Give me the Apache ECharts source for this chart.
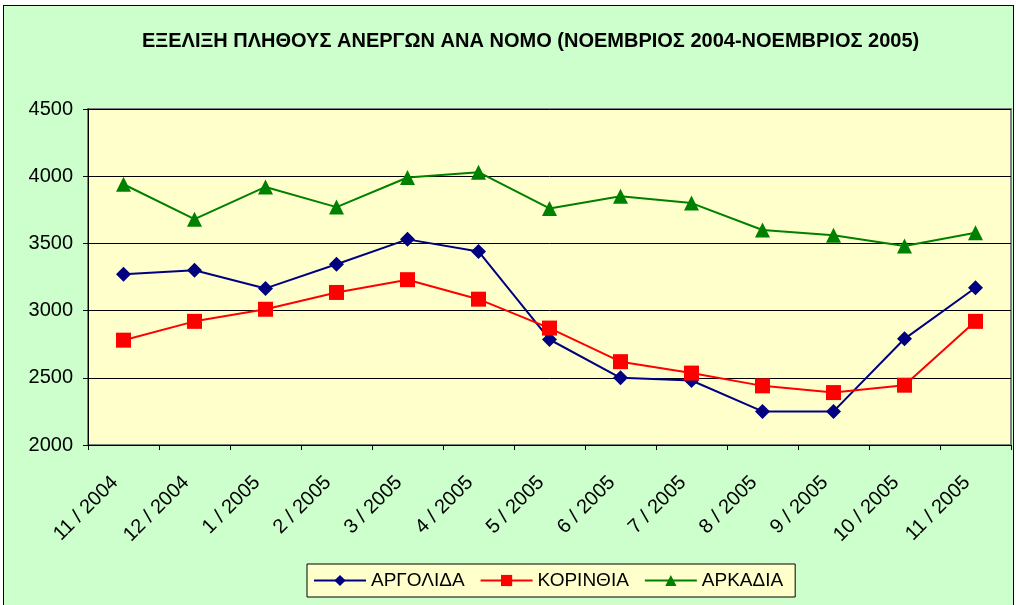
<!DOCTYPE html>
<html>
<head>
<meta charset="utf-8">
<style>
  html, body { margin: 0; padding: 0; background: #fff; }
  #frame { position: absolute; left: 3px; top: 5px; width: 1011px; height: 610px;
           border: 1px solid #000; background: #CCFFCC; box-sizing: border-box; }
  #main { width: 1009px; height: 600px; }
</style>
<script src="https://cdn.jsdelivr.net/npm/echarts@6/dist/echarts.min.js"></script>
</head>
<body>
<div id="frame"><div id="main"></div></div>
<script type="text/javascript">
    var months = ['11 / 2004', '12 / 2004', '1 / 2005', '2 / 2005', '3 / 2005', '4 / 2005', '5 / 2005',
                  '6 / 2005', '7 / 2005', '8 / 2005', '9 / 2005', '10 / 2005', '11 / 2005'];
    var argolida = [3270, 3300, 3165, 3345, 3530, 3440, 2785, 2500, 2480, 2250, 2250, 2790, 3170];
    var korinthia = [2780, 2920, 3010, 3135, 3230, 3085, 2870, 2620, 2535, 2440, 2390, 2445, 2920];
    var arkadia = [3940, 3680, 3920, 3770, 3990, 4030, 3760, 3850, 3800, 3600, 3560, 3480, 3580];

    var font = 'Liberation Sans, Arial, sans-serif';
    var myChart = echarts.init(document.getElementById('main'));
    var option = {
        textStyle: { fontFamily: font },
        title: {
            text: 'ΕΞΕΛΙΞΗ ΠΛΗΘΟΥΣ ΑΝΕΡΓΩΝ ΑΝΑ ΝΟΜΟ (ΝΟΕΜΒΡΙΟΣ 2004-ΝΟΕΜΒΡΙΟΣ 2005)',
            left: 133,
            top: 20,
            textStyle: { fontFamily: font, fontSize: 20, fontWeight: 'bold', color: '#000' }
        },
        legend: {
            data: ['ΑΡΓΟΛΙΔΑ', 'ΚΟΡΙΝΘΙΑ', 'ΑΡΚΑΔΙΑ'],
            bottom: 9,
            left: 303,
            backgroundColor: '#FFFFCC',
            borderColor: '#000',
            borderWidth: 1,
            borderRadius: 0,
            padding: [7, 12, 7, 6],
            itemGap: 15,
            itemWidth: 52,
            itemHeight: 14,
            textStyle: { fontFamily: font, fontSize: 19, color: '#000' }
        },
        grid: { left: 84, right: 2, top: 103, bottom: 161, show: true,
                backgroundColor: '#FFFFCC', borderColor: '#808080', borderWidth: 2 },
        xAxis: {
            type: 'category',
            data: months,
            boundaryGap: true,
            axisLine: { lineStyle: { color: '#000', width: 1 } },
            axisTick: { show: true, alignWithLabel: false, length: 5, lineStyle: { color: '#000' } },
            axisLabel: { rotate: 45, margin: 26, fontSize: 20, color: '#000', fontFamily: font,
                         interval: 0, padding: [0, 12, 0, 0] }
        },
        yAxis: {
            type: 'value',
            min: 2000,
            max: 4500,
            interval: 500,
            axisLine: { show: true, lineStyle: { color: '#000', width: 1 } },
            axisTick: { show: true, length: 5, lineStyle: { color: '#000' } },
            axisLabel: { fontSize: 20, color: '#000', fontFamily: font, margin: 15,
                         formatter: function (v) { return String(v); } },
            splitLine: { lineStyle: { color: '#000', width: 1 } }
        },
        series: [
            {
                name: 'ΑΡΓΟΛΙΔΑ', type: 'line', data: argolida,
                symbol: 'diamond', symbolSize: 15,
                itemStyle: { color: '#000080' },
                lineStyle: { color: '#000080', width: 2 }
            },
            {
                name: 'ΚΟΡΙΝΘΙΑ', type: 'line', data: korinthia,
                symbol: 'rect', symbolSize: 15,
                itemStyle: { color: '#FF0000' },
                lineStyle: { color: '#FF0000', width: 2 }
            },
            {
                name: 'ΑΡΚΑΔΙΑ', type: 'line', data: arkadia,
                symbol: 'triangle', symbolSize: 15,
                itemStyle: { color: '#008000' },
                lineStyle: { color: '#008000', width: 2 }
            }
        ]
    };
    myChart.setOption(option);
</script>
</body>
</html>
